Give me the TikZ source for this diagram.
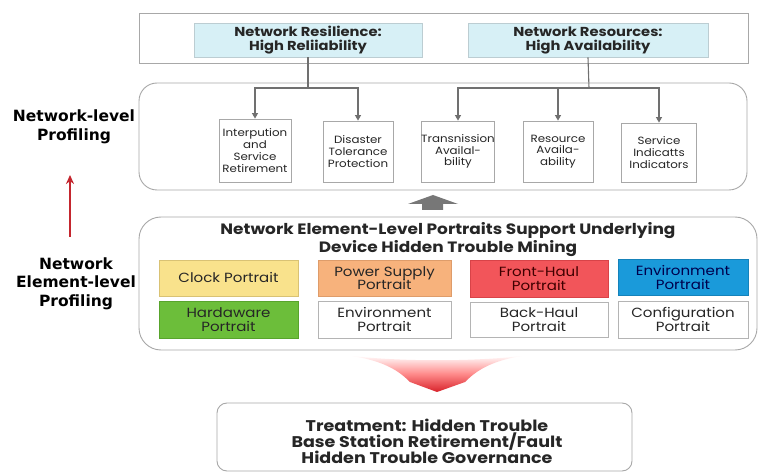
\documentclass[tikz,border=0pt]{standalone}
\usepackage{fontspec}
\setmainfont{Poppins}[FakeStretch=1.13]
\newfontfamily\labfont{DejaVu Sans}
\usetikzlibrary{arrows.meta}

\definecolor{frameline}{HTML}{A8A8A8}
\definecolor{linkgray}{HTML}{707070}
\definecolor{goalfill}{HTML}{D7F0F6}
\definecolor{goalline}{HTML}{BCCDD2}
\definecolor{inkdark}{HTML}{262626}
\definecolor{clockfill}{HTML}{F9E28C}
\definecolor{clockline}{HTML}{D9C274}
\definecolor{powerfill}{HTML}{F7B27C}
\definecolor{powerline}{HTML}{DE9C6A}
\definecolor{frontfill}{HTML}{F2555A}
\definecolor{frontline}{HTML}{D84348}
\definecolor{envfill}{HTML}{1A9ADA}
\definecolor{envline}{HTML}{1582BA}
\definecolor{hwfill}{HTML}{6CBE3A}
\definecolor{hwline}{HTML}{58A42C}
\definecolor{plainline}{HTML}{B4B4B4}
\definecolor{levelred}{HTML}{C4262E}
\definecolor{funnelred}{HTML}{D8222A}

\tikzset{
  panel/.style={draw=frameline, line width=0.9pt, fill=white},
  goalbox/.style={draw=goalline, line width=0.8pt, fill=goalfill, align=center,
    font=\bfseries\fontsize{13}{14}\selectfont, text=inkdark, inner sep=0pt},
  metricbox/.style={draw=frameline, line width=0.8pt, fill=white, align=center,
    font=\fontsize{10.5}{11.8}\selectfont, text=inkdark, inner sep=0pt,
    minimum height=61pt},
  portrait/.style={line width=0.8pt, align=center,
    font=\fontsize{13.3}{13.6}\selectfont, text=inkdark, inner sep=0pt},
  link/.style={draw=linkgray, line width=1.1pt,
    -{Triangle[length=5.5pt,width=6pt]}},
  stem/.style={draw=linkgray, line width=1.1pt},
  sidelabel/.style={align=center, text=black,
    font=\labfont\bfseries\fontsize{15.5}{19.5}\selectfont}
}

\begin{document}
\begin{tikzpicture}[x=1pt, y=-1pt]
  \useasboundingbox[fill=white] (0,0) rectangle (780,473);

  % ---- network-level goals ----
  \node[panel, minimum width=609pt, minimum height=50pt] (goals) at (443.5,38) {};
  \node[goalbox, minimum width=228pt, minimum height=34pt] (res) at (308,40)
    {Network Resilience:\\High Reliiability};
  \node[goalbox, minimum width=240pt, minimum height=34pt] (avl) at (588,40)
    {Network Resources:\\High Availability};

  % ---- network-level indicators ----
  \node[panel, rounded corners=18pt, minimum width=608pt, minimum height=107pt] (netpanel) at (443,136.5) {};
  \node[metricbox, minimum width=72pt, minimum height=63pt] (b1) at (255,150.5)
    {Interpution\\and\\Service\\Retirement};
  \node[metricbox, minimum width=70pt] (b2) at (358,151.5)
    {Disaster\\Tolerance\\Protection};
  \node[metricbox, minimum width=72pt] (b3) at (458,151.5)
    {Transnission\\Availal-\\bility};
  \node[metricbox, minimum width=70pt] (b4) at (558,151.5)
    {Resource\\Availa-\\ability};
  \node[metricbox, minimum width=75pt, minimum height=59pt] (b5) at (659,152.5)
    {Service\\Indicatts\\Indicators};

  \coordinate (jres) at (308,88);
  \coordinate (javl) at (589,88);
  \draw[stem] (res.south) -- (jres);
  \draw[stem] (avl.south) -- (javl);
  \draw[link] (jres) -| (b1.north);
  \draw[link] (jres) -| (b2.north);
  \draw[link] (javl) -| (b3.north);
  \draw[link] (javl) -| (b4.north);
  \draw[link] (javl) -| (b5.north);

  % ---- block arrow from element level up to network level ----
  \fill[linkgray!95!white] (422,210) -- (443,210) -- (443,204) -- (458,204)
    -- (433,195) -- (408,204) -- (422,204) -- cycle;

  % ---- network element-level portraits ----
  \node[panel, rounded corners=22pt, minimum width=618pt, minimum height=133pt] (elempanel) at (448,283.5) {};
  \node[align=center, text=inkdark, font=\bfseries\fontsize{15}{15.5}\selectfont] (elemtitle) at (448,239.5)
    {Network Element-Level Portraits Support Underlying\\Device Hidden Trouble Mining};

  \node[portrait, draw=clockline, fill=clockfill, minimum width=139pt, minimum height=36pt] (clock) at (228.5,278)
    {Clock Portrait};
  \node[portrait, draw=powerline, fill=powerfill, minimum width=133pt, minimum height=36pt] (power) at (384.5,278)
    {Power Supply\\Portrait};
  \node[portrait, draw=frontline, fill=frontfill, text=black!75!red, minimum width=138pt, minimum height=37pt] (front) at (539,278.5)
    {Front-Haul\\Portrait};
  \node[portrait, draw=envline, fill=envfill, text=black!70!blue, minimum width=130pt, minimum height=36pt] (envblue) at (683,277.5)
    {Environment\\Portrait};

  \node[portrait, draw=hwline, fill=hwfill, minimum width=139pt, minimum height=37pt] (hardware) at (228.5,319.5)
    {Hardaware\\Portrait};
  \node[portrait, draw=plainline, fill=white, minimum width=133pt, minimum height=37pt] (envplain) at (384.5,319.5)
    {Environment\\Portrait};
  \node[portrait, draw=plainline, fill=white, minimum width=138pt, minimum height=35pt] (back) at (539,319.5)
    {Back-Haul\\Portrait};
  \node[portrait, draw=plainline, fill=white, minimum width=130pt, minimum height=37pt] (config) at (683,319.5)
    {Configuration\\Portrait};

  % ---- red funnel pointing down to the treatment ----
  \shade[top color=white, bottom color=funnelred, middle color=red!45!white]
    (345,355) .. controls (385,360) and (400,372) .. (410,382)
    -- (437,392) -- (465,382)
    .. controls (475,372) and (490,360) .. (528,355)
    .. controls (480,362) and (395,362) .. cycle;

  % ---- treatment ----
  \node[panel, rounded corners=10pt, minimum width=415pt, minimum height=68pt] (treat) at (424.5,437) {};
  \node[align=center, text=inkdark, font=\bfseries\fontsize{15.5}{16}\selectfont] (treattext) at (427,441)
    {Treatment: Hidden Trouble\\Base Station Retirement/Fault\\Hidden Trouble Governance};

  % ---- level labels on the left ----
  \node[sidelabel] (netlevel) at (74,127) {Network-level\\Profiling};
  \node[sidelabel, font=\labfont\bfseries\fontsize{15.5}{18.5}\selectfont] (nelevel) at (76,283.5)
    {Network\\Element-level\\Profiling};
  \coordinate (upfrom) at (70,237);
  \coordinate (upto) at (70,175);
  \draw[levelred, line width=1.5pt, -{Stealth[length=9pt,width=8pt]}] (upfrom) -- (upto);
\end{tikzpicture}
\end{document}
